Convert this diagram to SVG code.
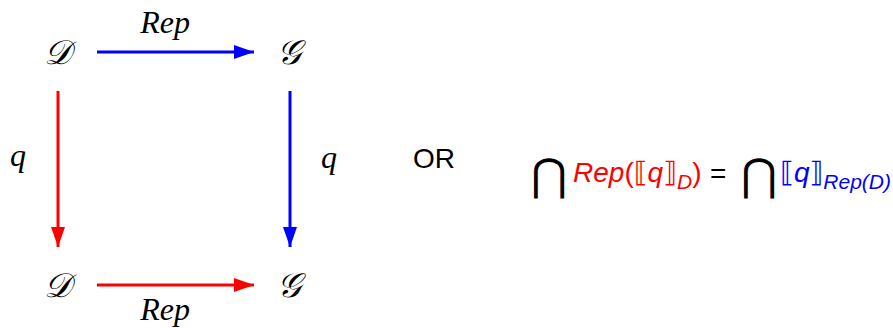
<svg xmlns="http://www.w3.org/2000/svg" width="893" height="328" viewBox="0 0 893 328">
<style>
.cal{font-family:"DejaVu Serif","Liberation Serif",serif;font-style:italic;font-size:34px;fill:#000;text-anchor:middle}
.mi{font-family:"Liberation Serif",serif;font-style:italic;font-size:32px;fill:#000;text-anchor:middle}
.sf{font-family:"Liberation Sans","DejaVu Sans",sans-serif;font-size:28px}
.it{font-style:italic}
.red{fill:#ff0000}
.blue{fill:#0000ff}
.blk{fill:#000}
.sub{font-size:21px}
</style>
<defs>
<marker id="ab" viewBox="0 0 20 14" refX="20" refY="7" markerWidth="20" markerHeight="14" markerUnits="userSpaceOnUse" orient="auto"><path d="M0,0 L20,7 L0,14 Z" fill="#0000ff"/></marker>
<marker id="ar" viewBox="0 0 20 14" refX="20" refY="7" markerWidth="20" markerHeight="14" markerUnits="userSpaceOnUse" orient="auto"><path d="M0,0 L20,7 L0,14 Z" fill="#ff0000"/></marker>
</defs>
<g id="connectors" fill="none" stroke-width="3">
<line x1="97" y1="52" x2="254" y2="52" stroke="#0000ff" marker-end="url(#ab)"/>
<line x1="58" y1="91" x2="58" y2="247" stroke="#ff0000" marker-end="url(#ar)"/>
<line x1="290" y1="91" x2="290" y2="247" stroke="#0000ff" marker-end="url(#ab)"/>
<line x1="97" y1="285" x2="254" y2="285" stroke="#ff0000" marker-end="url(#ar)"/>
<text class="mi" x="165" y="33">Rep</text>
<text class="mi" x="165" y="320">Rep</text>
<text class="mi" x="18" y="166">q</text>
<text class="mi" x="329" y="168">q</text>
</g>
<g id="n-d-top"><text class="cal" x="57" y="64">𝒟</text></g>
<g id="n-g-top"><text class="cal" x="289" y="64">𝒢</text></g>
<g id="n-d-bot"><text class="cal" x="57" y="297">𝒟</text></g>
<g id="n-g-bot"><text class="cal" x="289" y="297">𝒢</text></g>
<g id="or"><text class="sf blk" x="434" y="168" text-anchor="middle" font-size="26">OR</text></g>
<g id="formula">
<text x="549" y="190" text-anchor="middle" font-family="DejaVu Sans,sans-serif" font-size="44" fill="#000">⋂</text>
<text class="sf" x="573" y="182"><tspan class="it red">Rep</tspan><tspan class="red">(⟦</tspan><tspan class="it red">q</tspan><tspan class="red">⟧</tspan><tspan class="it red sub" dy="7">D</tspan><tspan class="red" dy="-7">)</tspan></text>
<text class="sf blk" x="710" y="183" font-size="32">=</text>
<text x="759" y="190" text-anchor="middle" font-family="DejaVu Sans,sans-serif" font-size="44" fill="#000">⋂</text>
<text class="sf" x="780" y="182"><tspan class="blue">⟦</tspan><tspan class="it blue">q</tspan><tspan class="blue">⟧</tspan><tspan class="it blue sub" dy="7">Rep(D)</tspan></text>
</g>
</svg>
